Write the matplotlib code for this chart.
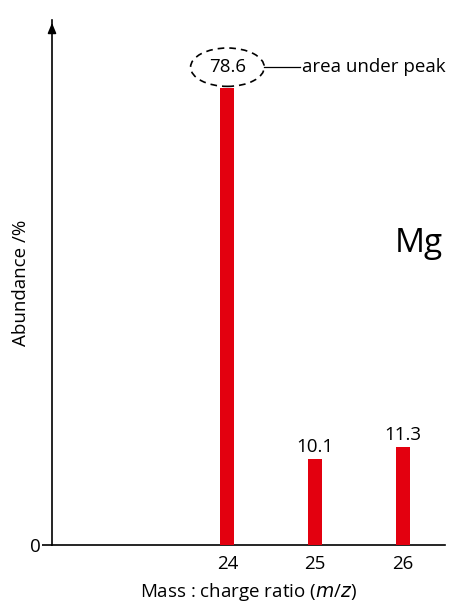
import numpy as np
import matplotlib.pyplot as plt
from matplotlib.patches import Ellipse

plt.rcParams['font.family'] = ['Open Sans', 'DejaVu Sans']

# Data
mass_charge = [24, 25, 26]
abundance_labels = ["78.6", "10.1", "11.3"]
# bar heights as drawn in the reference (schematic)
bar_heights = [78.6, 14.8, 16.9]
element = "Mg"

FS = 13.5

fig = plt.figure(figsize=(4.49, 6.04), dpi=100)
ax = fig.add_axes([0.1158, 0.0977, 0.8752, 0.869])

ax.bar(mass_charge, bar_heights, width=0.16, color='#e3000f', zorder=3)

ax.set_xlim(22.0, 26.48)
ax.set_ylim(0, 90.3)

# axes: only left and bottom, arrow at top of y axis
for s in ['top', 'right']:
    ax.spines[s].set_visible(False)
ax.spines['left'].set_linewidth(1.2)
ax.spines['bottom'].set_linewidth(1.2)
ax.annotate('', xy=(0, 1.0), xycoords='axes fraction', xytext=(0, 0.97),
            arrowprops=dict(arrowstyle='-|>,head_length=0.6,head_width=0.25',
                            color='black', lw=1.2))

ax.set_xticks(mass_charge)
ax.set_xticklabels([str(m) for m in mass_charge], fontsize=FS)
ax.tick_params(axis='x', length=0, pad=7)
ax.set_yticks([0])
ax.set_yticklabels(['0'], fontsize=FS)
ax.tick_params(axis='y', length=7, width=1.2, pad=1)

ax.set_xlabel('Mass : charge ratio ($\\it{m}$/$\\it{z}$)', fontsize=FS)
ax.xaxis.set_label_coords(0.5, -0.068)
ax.set_ylabel('Abundance /%', fontsize=FS)
ax.yaxis.set_label_coords(-0.057, 0.5)

# value labels
ax.text(mass_charge[0], bar_heights[0] + 3.6, abundance_labels[0], ha='center', va='center',
        fontsize=FS)
for x, h, lab in zip(mass_charge[1:], bar_heights[1:], abundance_labels[1:]):
    ax.text(x, h + 0.5, lab, ha='center', va='bottom', fontsize=FS)

# dashed ellipse around the main peak value + callout
ell = Ellipse((mass_charge[0], bar_heights[0] + 3.6), width=0.84, height=6.6,
              fill=False, ls=(0, (4, 3)), lw=1.2, color='black', zorder=4)
ax.add_patch(ell)
ax.plot([mass_charge[0] + 0.42, mass_charge[0] + 0.83],
        [bar_heights[0] + 3.6] * 2, color='black', lw=0.9)
ax.text(mass_charge[0] + 0.85, bar_heights[0] + 3.6, 'area under peak', ha='left',
        va='center', fontsize=FS)

ax.text(26.18, 51.8, element, ha='center', va='center', fontsize=24)

fig.savefig('out.png', dpi=100)
